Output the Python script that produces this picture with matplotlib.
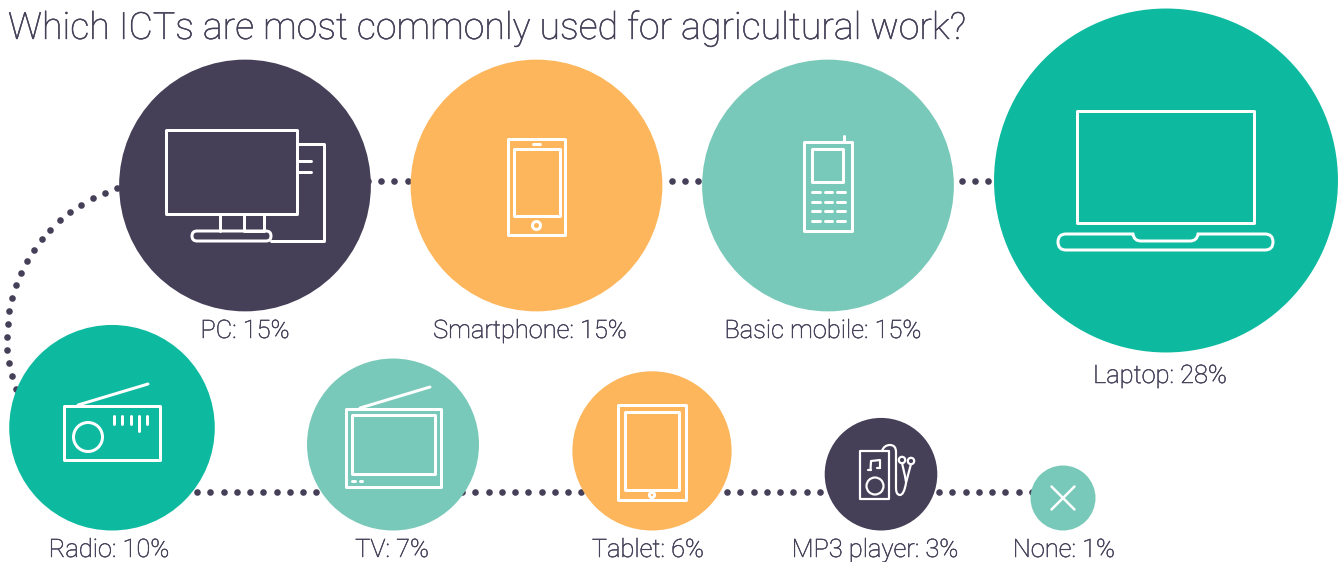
import numpy as np
import matplotlib
matplotlib.use('Agg')
from matplotlib import pyplot as plt
from matplotlib import patheffects
from matplotlib.patches import Circle, FancyBboxPatch, Rectangle, PathPatch
from matplotlib.path import Path

categories = ['PC', 'Smartphone', 'Basic mobile', 'Laptop',
              'Radio', 'TV', 'Tablet', 'MP3 player', 'None']
shares = [15, 15, 15, 28, 10, 7, 6, 3, 1]

NAVY = '#453F58'
TEAL = '#0DBA9F'
MINT = '#78C9B9'
ORANGE = '#FDB65C'

bubble_colors = [NAVY, ORANGE, MINT, TEAL, TEAL, MINT, ORANGE, NAVY, MINT]
center_x = [245, 536.5, 828, 1166, 112, 393, 652, 881, 1063]
label_x = [245, 530, 823, 1160, 109, 392, 648, 875, 1064]
label_y = [331, 331, 331, 376, 550, 550, 550, 550, 550]

# bubble area follows the share
RADIUS_PER_ROOT = 32.5
BOTTOM_ROW_FLOOR = 530.5
TOP_ROW_Y = 185.5

W, H = 1339, 562
fig = plt.figure(figsize=(W / 100, H / 100), dpi=100)
ax = fig.add_axes([0, 0, 1, 1])
ax.set_xlim(0, W)
ax.set_ylim(H, 0)
ax.axis('off')

LW = 3.0 * 0.72
DOT = 6.6 * 0.72
FONT = 'Roboto'
# light weight thickened a little
text_stroke = [patheffects.withStroke(linewidth=0.35, foreground=NAVY)]


def line(xs, ys, lw=LW):
    ax.plot(xs, ys, color='white', lw=lw, solid_capstyle='round',
            solid_joinstyle='round', zorder=5)


def box(x0, y0, x1, y1, lw=LW):
    ax.add_patch(Rectangle((x0, y0), x1 - x0, y1 - y0, fc='none', ec='white',
                           lw=lw, joinstyle='round', zorder=5))


def ring(x, y, r, lw=LW):
    ax.add_patch(Circle((x, y), r, fc='none', ec='white', lw=lw, zorder=5))


def pill(x0, y0, x1, y1, lw=LW):
    r = (y1 - y0) / 2
    ax.add_patch(FancyBboxPatch((x0 + r, y0 + r), x1 - x0 - 2 * r, 0,
                                boxstyle='round,pad=%f,rounding_size=%f' % (r, r),
                                fc='none', ec='white', lw=lw, zorder=5))


def draw_pc():
    box(165.5, 130, 297, 214)
    line([297, 324, 324, 271], [144, 144, 241, 241])
    line([297, 311], [161, 161])
    line([297, 311], [172, 172])
    line([220, 220], [214, 231])
    line([244, 244, 264, 264], [214, 231, 231, 214])
    pill(192, 231, 271, 241)


def draw_smartphone():
    box(508, 139, 565, 235)
    box(513.5, 149, 560, 215.5)
    line([533, 540], [144, 144])
    ring(536.5, 225.5, 4)


def draw_basic_mobile():
    box(804, 142, 851.5, 231)
    line([843.5, 843.5], [136, 142])
    box(812, 149, 843, 182)
    for y in [192, 202, 211, 221]:
        for x0, x1 in [(812, 820), (825, 832), (837, 845)]:
            line([x0, x1], [y, y])


def draw_laptop():
    box(1077, 111, 1253.5, 223)
    verts = [(1066, 234), (1133, 234), (1134, 241), (1141, 241), (1190, 241),
             (1197, 241), (1198, 234), (1265, 234), (1273, 234), (1273, 242),
             (1273, 250), (1265, 250), (1066, 250), (1058, 250), (1058, 242),
             (1058, 234), (1066, 234), (1066, 234)]
    codes = [Path.MOVETO, Path.LINETO, Path.CURVE3, Path.CURVE3, Path.LINETO,
             Path.CURVE3, Path.CURVE3, Path.LINETO, Path.CURVE3, Path.CURVE3,
             Path.CURVE3, Path.CURVE3, Path.LINETO, Path.CURVE3, Path.CURVE3,
             Path.CURVE3, Path.CURVE3, Path.CLOSEPOLY]
    ax.add_patch(PathPatch(Path(verts, codes), fc='none', ec='white', lw=LW, zorder=5))


def draw_radio():
    box(64, 406, 159.5, 460)
    line([78, 148], [405, 384])
    ring(88, 437, 14.5)
    for x in [113.5, 122, 130.5, 147]:
        line([x, x], [416, 424])
    line([139, 139], [416, 431])


def draw_tv():
    box(346, 409, 441, 487)
    box(352, 415, 435, 474)
    line([360, 430], [408, 387])
    line([352, 355], [481, 481])
    line([360, 362], [481, 481])


def draw_tablet():
    box(618, 405, 686, 500)
    box(625, 412, 679, 490)
    ring(652, 495, 2.6)


def draw_mp3():
    thin = 2.2 * 0.72
    box(860, 451, 889, 499, thin)
    ring(875, 486, 8.5, thin)
    # note
    line([870.5, 871, 880, 880], [470, 461, 460, 468], thin)
    line([870.5, 868], [470, 470], thin)
    line([880, 877], [468, 468], thin)
    # cable and earbuds
    cable = Path([(882, 451), (884, 445), (890, 445), (896, 445), (896, 452),
                  (896, 470), (896, 488), (896, 495), (900, 495), (904, 495),
                  (906, 483), (908, 475), (911, 464)],
                 [Path.MOVETO, Path.CURVE3, Path.CURVE3, Path.CURVE3, Path.CURVE3,
                  Path.LINETO, Path.LINETO, Path.CURVE3, Path.CURVE3, Path.CURVE3,
                  Path.CURVE3, Path.CURVE3, Path.CURVE3])
    ax.add_patch(PathPatch(cable, fc='none', ec='white', lw=thin, zorder=5))
    line([902, 905, 906], [463, 476, 482], thin)
    ring(902, 460, 3.2, thin)
    ring(911, 461, 3.2, thin)


def draw_none():
    line([1051.5, 1074.5], [486.5, 509.5], 1.8)
    line([1074.5, 1051.5], [486.5, 509.5], 1.8)


icon_painters = [draw_pc, draw_smartphone, draw_basic_mobile, draw_laptop,
                 draw_radio, draw_tv, draw_tablet, draw_mp3, draw_none]

# dotted connector running behind the bubbles
top_dots = np.arange(368, 996, 13.2)
ax.plot(top_dots, np.full(top_dots.shape, 181), 'o', color=NAVY, ms=DOT, mew=0, zorder=1)
bottom_dots = np.arange(197, 1040, 13.25)
ax.plot(bottom_dots, np.full(bottom_dots.shape, 492), 'o', color=NAVY, ms=DOT, mew=0, zorder=1)
angles = np.radians(np.arange(252.6, 160, -4.82))
ax.plot(164 + 157 * np.cos(angles), 338 + 157 * np.sin(angles), 'o', color=NAVY,
        ms=DOT, mew=0, zorder=1)

for i, name in enumerate(categories):
    radius = RADIUS_PER_ROOT * np.sqrt(shares[i])
    if i < 4:
        cy = TOP_ROW_Y if name != 'Laptop' else 180.5
    else:
        cy = BOTTOM_ROW_FLOOR - radius
    ax.add_patch(Circle((center_x[i], cy), radius, fc=bubble_colors[i], ec='none', zorder=2))
    icon_painters[i]()
    ax.text(label_x[i], label_y[i], '%s: %d%%' % (name, shares[i]), ha='center', va='center',
            family=FONT, weight='light', fontsize=18.3, color=NAVY, zorder=6,
            path_effects=text_stroke)

ax.text(8, 28, 'Which ICTs are most commonly used for agricultural work?', ha='left', va='center',
        family=FONT, weight='light', fontsize=27, color=NAVY, zorder=6,
        path_effects=text_stroke)

fig.savefig('out.png', dpi=100)
